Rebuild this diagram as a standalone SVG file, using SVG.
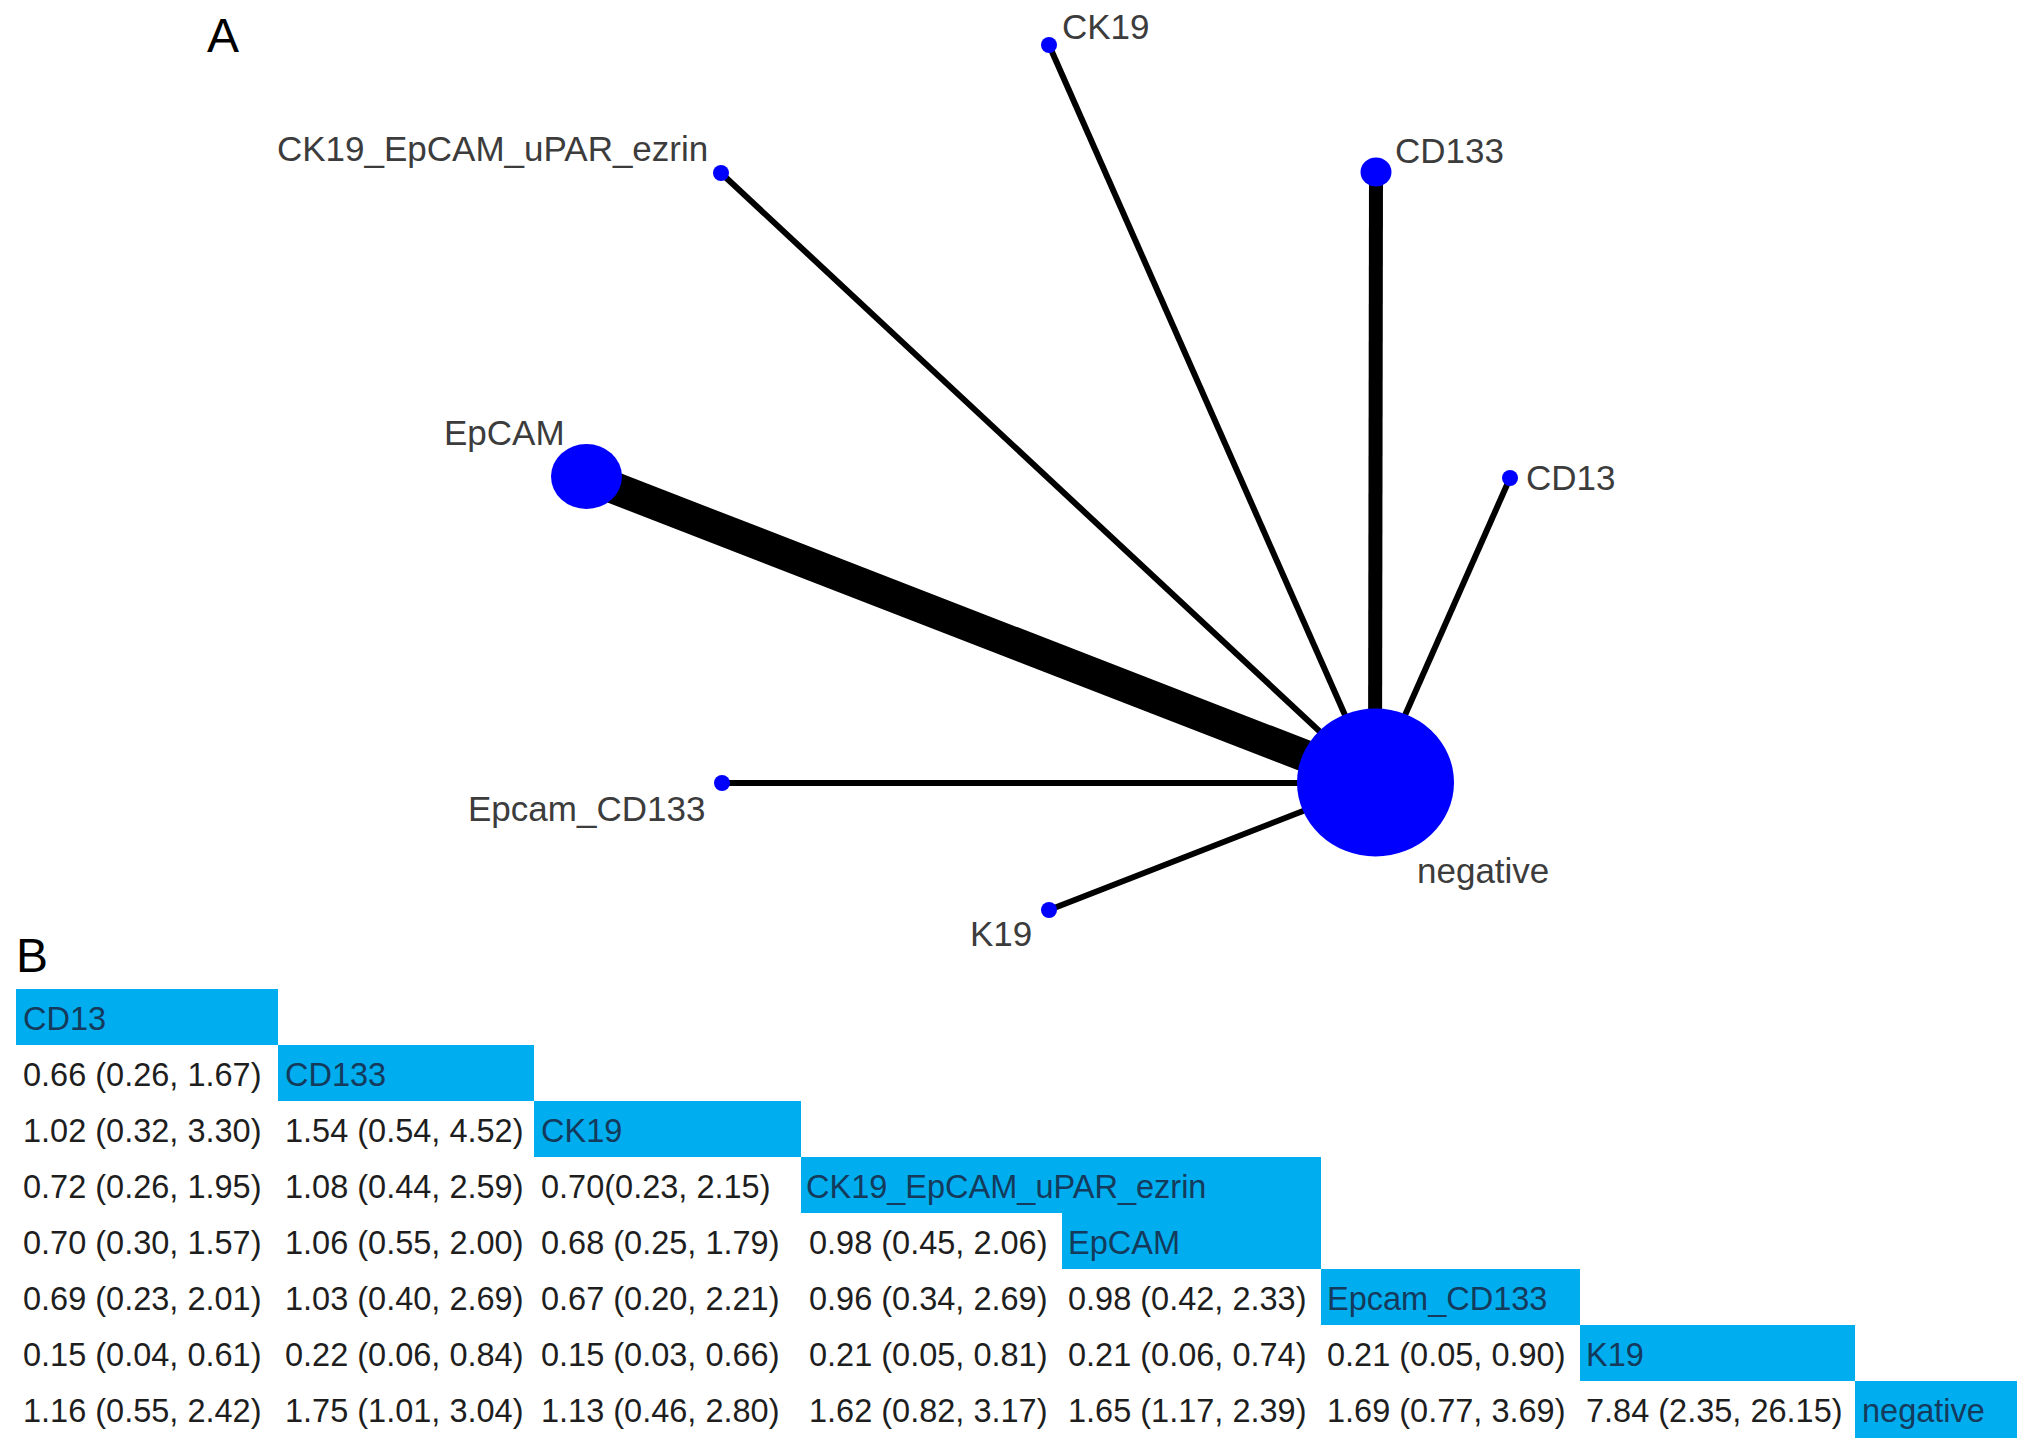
<svg xmlns="http://www.w3.org/2000/svg" width="2031" height="1456" viewBox="0 0 2031 1456">
<style>
.lbl{font-family:"Liberation Sans",Arial,sans-serif;font-size:35px;fill:#3c3c3c}
.node{fill:#0000ff}
.edge{stroke:#000;fill:none}
.panel{font-family:"Liberation Sans",Arial,sans-serif;font-size:48px;fill:#000}
.hdr{fill:#00aeef}
.ht{font-family:"Liberation Sans",Arial,sans-serif;font-size:32.5px;fill:#143a5c}
.dt{font-family:"Liberation Sans",Arial,sans-serif;font-size:32.5px;fill:#1e1e1e}
</style>
<rect width="2031" height="1456" fill="#fff"/>
<text class="panel" x="207" y="52">A</text>
<text class="panel" x="16" y="972">B</text>
<g id="connectors">
<line class="edge" x1="586" y1="477" x2="1375" y2="783" stroke-width="32"/>
<line class="edge" x1="1376" y1="172" x2="1375" y2="783" stroke-width="14"/>
<line class="edge" x1="1049" y1="45" x2="1375" y2="783" stroke-width="6"/>
<line class="edge" x1="721" y1="173" x2="1375" y2="783" stroke-width="6"/>
<line class="edge" x1="1510" y1="478" x2="1375" y2="783" stroke-width="6"/>
<line class="edge" x1="722" y1="783" x2="1375" y2="783" stroke-width="6"/>
<line class="edge" x1="1049" y1="910" x2="1375" y2="783" stroke-width="6"/>
</g>
<g id="node-CK19"><ellipse class="node" cx="1049" cy="45" rx="8" ry="8"/><text class="lbl" x="1062" y="39">CK19</text></g>
<g id="node-CK19_EpCAM_uPAR_ezrin"><ellipse class="node" cx="721" cy="173" rx="8" ry="8"/><text class="lbl" x="277" y="161">CK19_EpCAM_uPAR_ezrin</text></g>
<g id="node-CD133"><ellipse class="node" cx="1376" cy="172" rx="15.5" ry="14.5"/><text class="lbl" x="1395" y="163">CD133</text></g>
<g id="node-EpCAM"><ellipse class="node" cx="586.5" cy="476.5" rx="35.5" ry="32.5"/><text class="lbl" x="444" y="445">EpCAM</text></g>
<g id="node-CD13"><ellipse class="node" cx="1510" cy="478" rx="8" ry="8"/><text class="lbl" x="1526" y="490">CD13</text></g>
<g id="node-Epcam_CD133"><ellipse class="node" cx="722" cy="783" rx="8" ry="8"/><text class="lbl" x="468" y="821">Epcam_CD133</text></g>
<g id="node-negative"><ellipse class="node" cx="1375.5" cy="782.5" rx="78.5" ry="74"/><text class="lbl" x="1417" y="883">negative</text></g>
<g id="node-K19"><ellipse class="node" cx="1049" cy="910" rx="8" ry="8"/><text class="lbl" x="970" y="946">K19</text></g>
<g id="table">
<rect class="hdr" x="16" y="989" width="262" height="56"/>
<rect class="hdr" x="278" y="1045" width="256" height="56"/>
<rect class="hdr" x="534" y="1101" width="267" height="56"/>
<rect class="hdr" x="801" y="1157" width="520" height="56"/>
<rect class="hdr" x="1062" y="1213" width="259" height="56"/>
<rect class="hdr" x="1321" y="1269" width="259" height="56"/>
<rect class="hdr" x="1580" y="1325" width="275" height="56"/>
<rect class="hdr" x="1855" y="1381" width="162" height="57"/>
<text class="ht" x="23" y="1030">CD13</text>
<text class="ht" x="285" y="1086">CD133</text>
<text class="ht" x="541" y="1142">CK19</text>
<text class="ht" x="806" y="1198">CK19_EpCAM_uPAR_ezrin</text>
<text class="ht" x="1068" y="1254">EpCAM</text>
<text class="ht" x="1327" y="1310">Epcam_CD133</text>
<text class="ht" x="1586" y="1366">K19</text>
<text class="ht" x="1862" y="1422">negative</text>
<text class="dt" x="23" y="1086">0.66 (0.26, 1.67)</text>
<text class="dt" x="23" y="1142">1.02 (0.32, 3.30)</text>
<text class="dt" x="285" y="1142">1.54 (0.54, 4.52)</text>
<text class="dt" x="23" y="1198">0.72 (0.26, 1.95)</text>
<text class="dt" x="285" y="1198">1.08 (0.44, 2.59)</text>
<text class="dt" x="541" y="1198">0.70(0.23, 2.15)</text>
<text class="dt" x="23" y="1254">0.70 (0.30, 1.57)</text>
<text class="dt" x="285" y="1254">1.06 (0.55, 2.00)</text>
<text class="dt" x="541" y="1254">0.68 (0.25, 1.79)</text>
<text class="dt" x="809" y="1254">0.98 (0.45, 2.06)</text>
<text class="dt" x="23" y="1310">0.69 (0.23, 2.01)</text>
<text class="dt" x="285" y="1310">1.03 (0.40, 2.69)</text>
<text class="dt" x="541" y="1310">0.67 (0.20, 2.21)</text>
<text class="dt" x="809" y="1310">0.96 (0.34, 2.69)</text>
<text class="dt" x="1068" y="1310">0.98 (0.42, 2.33)</text>
<text class="dt" x="23" y="1366">0.15 (0.04, 0.61)</text>
<text class="dt" x="285" y="1366">0.22 (0.06, 0.84)</text>
<text class="dt" x="541" y="1366">0.15 (0.03, 0.66)</text>
<text class="dt" x="809" y="1366">0.21 (0.05, 0.81)</text>
<text class="dt" x="1068" y="1366">0.21 (0.06, 0.74)</text>
<text class="dt" x="1327" y="1366">0.21 (0.05, 0.90)</text>
<text class="dt" x="23" y="1422">1.16 (0.55, 2.42)</text>
<text class="dt" x="285" y="1422">1.75 (1.01, 3.04)</text>
<text class="dt" x="541" y="1422">1.13 (0.46, 2.80)</text>
<text class="dt" x="809" y="1422">1.62 (0.82, 3.17)</text>
<text class="dt" x="1068" y="1422">1.65 (1.17, 2.39)</text>
<text class="dt" x="1327" y="1422">1.69 (0.77, 3.69)</text>
<text class="dt" x="1586" y="1422">7.84 (2.35, 26.15)</text>
</g>
</svg>
